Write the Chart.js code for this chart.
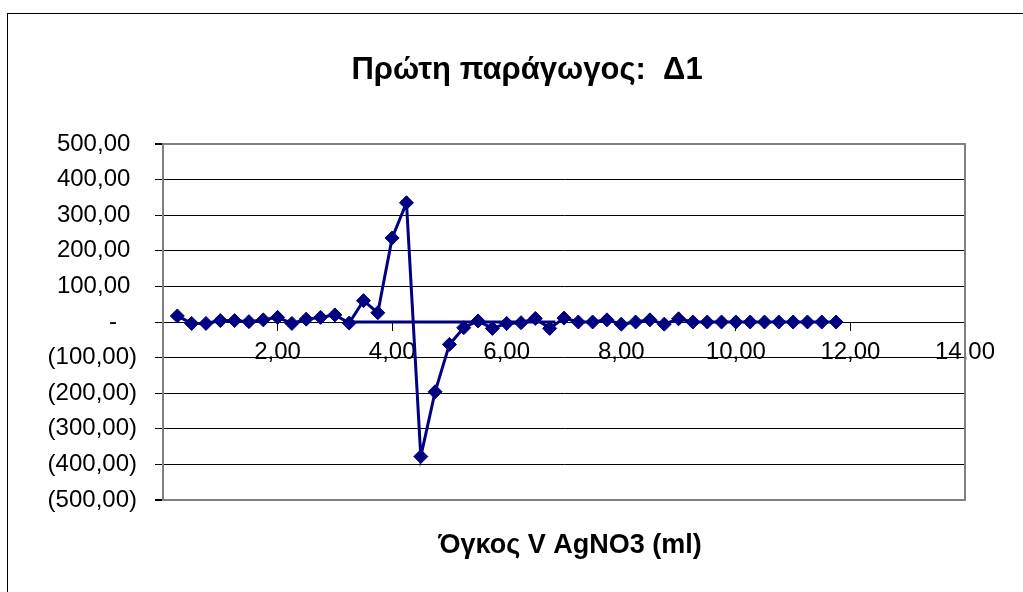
<!DOCTYPE html>
<html>
<head>
<meta charset="utf-8">
<script src="https://cdn.jsdelivr.net/npm/chart.js@4.4.1/dist/chart.umd.min.js"></script>
<style>
  html, body { margin: 0; padding: 0; background: #fff; }
  canvas { display: block; }
</style>
</head>
<body>
<canvas id="c" width="1023" height="592"></canvas>
<script>
const chartTitle = 'Πρώτη παράγωγος:  Δ1';
const xAxisTitle = 'Όγκος V AgNO3 (ml)';

const xValues = [0.25, 0.5, 0.75, 1.0, 1.25, 1.5, 1.75, 2.0, 2.25, 2.5, 2.75, 3.0,
  3.25, 3.5, 3.75, 4.0, 4.25, 4.5, 4.75, 5.0, 5.25, 5.5, 5.75, 6.0, 6.25, 6.5, 6.75,
  7.0, 7.25, 7.5, 7.75, 8.0, 8.25, 8.5, 8.75, 9.0, 9.25, 9.5, 9.75, 10.0, 10.25,
  10.5, 10.75, 11.0, 11.25, 11.5, 11.75];
const yValues = [17, -4, -4, 4, 4, 1, 6, 13, -4, 8, 13, 20,
  -3, 60, 26, 236, 335, -378, -196, -63, -16, 3, -18, -4, -2, 10, -18,
  11, 0, 0, 6, -6, 0, 6, -6, 9, 0, 0, 0, 0, 0,
  0, 0, 0, 0, 0, 0];

const extraSegX = [3.25, 6.85];
const extraSegY = [0, 0];

const yTickValues = [500, 400, 300, 200, 100, 0, -100, -200, -300, -400, -500];
const yTickLabels = ['500,00 ', '400,00 ', '300,00 ', '200,00 ', '100,00 ', '-   ',
  '(100,00)', '(200,00)', '(300,00)', '(400,00)', '(500,00)'];
const xTickValues = [0, 2, 4, 6, 8, 10, 12, 14];
const xTickLabels = ['', '2,00', '4,00', '6,00', '8,00', '10,00', '12,00', '14,00'];

const mainPoints = xValues.map((x, i) => ({ x: x, y: yValues[i] }));
const segPoints = extraSegX.map((x, i) => ({ x: x, y: extraSegY[i] }));

const decorPlugin = {
  id: 'decor',
  beforeDraw(chart) {
    const ctx = chart.ctx;
    ctx.save();
    ctx.fillStyle = '#fff';
    ctx.fillRect(0, 0, chart.width, chart.height);
    ctx.strokeStyle = '#000';
    ctx.lineWidth = 1;
    ctx.strokeRect(7.5, 13.5, 1200, 800);
    ctx.restore();
  },
  beforeDatasetsDraw(chart) {
    const ctx = chart.ctx;
    const a = chart.chartArea;
    ctx.save();
    ctx.strokeStyle = '#808080';
    ctx.lineWidth = 2;
    ctx.beginPath();
    ctx.moveTo(a.left, a.top);
    ctx.lineTo(a.right, a.top);
    ctx.lineTo(a.right, a.bottom);
    ctx.lineTo(a.left, a.bottom);
    ctx.stroke();
    ctx.restore();
  },
  afterDraw(chart) {
    const ctx = chart.ctx;
    ctx.save();
    ctx.fillStyle = '#000';
    ctx.textAlign = 'center';
    ctx.textBaseline = 'alphabetic';
    ctx.font = 'bold 31px "Liberation Sans", Arial, sans-serif';
    ctx.fillText(chartTitle, 527, 79);
    ctx.font = 'bold 27px "Liberation Sans", Arial, sans-serif';
    ctx.fillText(xAxisTitle, 570, 553);
    ctx.restore();
  }
};

const tickFont = { family: '"Liberation Sans", Arial, sans-serif', size: 24 };

new Chart(document.getElementById('c'), {
  type: 'scatter',
  data: {
    datasets: [
      {
        data: mainPoints,
        showLine: true,
        borderColor: '#000080',
        borderWidth: 3,
        backgroundColor: '#000080',
        pointStyle: 'rectRot',
        pointRadius: 7,
        pointBorderWidth: 1,
        pointBackgroundColor: '#000080',
        pointBorderColor: '#000080',
        tension: 0
      },
      {
        data: segPoints,
        showLine: true,
        borderColor: '#000080',
        borderWidth: 3,
        pointRadius: 0,
        tension: 0
      }
    ]
  },
  options: {
    responsive: false,
    animation: false,
    events: [],
    layout: { padding: { left: 0, top: 144, right: 58, bottom: 92 } },
    plugins: {
      legend: { display: false },
      title: { display: false },
      tooltip: { enabled: false }
    },
    scales: {
      x: {
        type: 'linear',
        min: 0,
        max: 14,
        position: { y: 0 },
        afterBuildTicks(scale) {
          scale.ticks = xTickValues.map(v => ({ value: v }));
        },
        ticks: {
          autoSkip: false,
          maxRotation: 0,
          padding: 8,
          color: '#000',
          font: tickFont,
          callback(value) {
            const i = xTickValues.indexOf(value);
            return i >= 0 ? xTickLabels[i] : '';
          }
        },
        grid: {
          display: true,
          drawOnChartArea: false,
          drawTicks: true,
          tickLength: 8,
          tickColor: '#000',
          lineWidth: 1
        },
        border: { display: true, color: '#000', width: 1 }
      },
      y: {
        type: 'linear',
        min: -500,
        max: 500,
        position: 'left',
        afterFit(scale) { scale.width = 163; },
        afterBuildTicks(scale) {
          scale.ticks = yTickValues.slice().reverse().map(v => ({ value: v }));
        },
        ticks: {
          padding: 18,
          color: '#000',
          font: tickFont,
          callback(value) {
            const i = yTickValues.indexOf(value);
            return i >= 0 ? yTickLabels[i] : '';
          }
        },
        grid: {
          drawTicks: true,
          tickLength: 8,
          tickColor: '#000',
          color(ctx) {
            const v = ctx.tick ? ctx.tick.value : null;
            return (v === 500 || v === -500) ? '#808080' : '#000';
          },
          lineWidth(ctx) {
            const v = ctx.tick ? ctx.tick.value : null;
            return (v === 500 || v === -500) ? 2 : 1;
          }
        },
        border: { display: true, color: '#808080', width: 2 }
      }
    }
  },
  plugins: [decorPlugin]
});
</script>
</body>
</html>
